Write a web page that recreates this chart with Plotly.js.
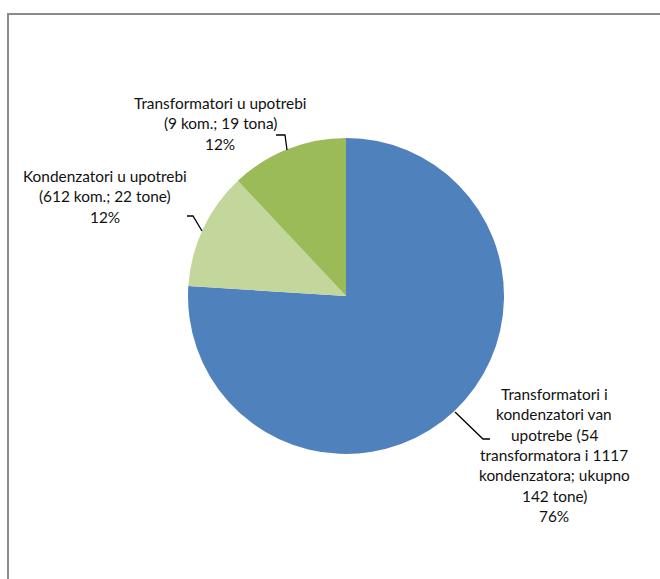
<!DOCTYPE html>
<html>
<head>
<meta charset="utf-8">
<script src="https://cdn.plot.ly/plotly-3.0.1.min.js"></script>
<style>html,body{margin:0;padding:0;background:#fff}#chart{width:660px;height:579px}</style>
</head>
<body>
<div id="chart"></div>
<script>
// Data
const categories = [
  "Transformatori i kondenzatori van upotrebe",
  "Kondenzatori u upotrebi",
  "Transformatori u upotrebi"
];
const details = [
  "(54 transformatora i 1117 kondenzatora; ukupno 142 tone)",
  "(612 kom.; 22 tone)",
  "(9 kom.; 19 tona)"
];
const shares = [76, 12, 12];
const colors = ["#4F81BD", "#C3D69B", "#9BBB59"];
// Label lines as displayed
const labelLines = [
  ["Transformatori i", "kondenzatori van", "upotrebe (54", "transformatora i 1117", "kondenzatora; ukupno", "142 tone)"],
  ["Kondenzatori u upotrebi", "(612 kom.; 22 tone)"],
  ["Transformatori u upotrebi", "(9 kom.; 19 tona)"]
];

const W = 660, H = 579;
const px = x => x / W;
const py = y => 1 - y / H;

const trace = {
  type: 'pie',
  labels: categories,
  values: shares,
  sort: false,
  direction: 'clockwise',
  rotation: 0,
  textinfo: 'none',
  hoverinfo: 'label+percent',
  marker: {colors: colors, line: {width: 0}},
  showlegend: false,
  domain: {x: [px(188), px(504)], y: [py(454), py(138)]}
};

const font = {family: 'Lato, sans-serif', size: 15.4, color: '#111111'};
const LINE = 20.3;
// first-line centre positions for each label block
const labelPos = [
  {x: 554, y: 394},
  {x: 105, y: 176},
  {x: 220, y: 103}
];
const annotations = [];
labelPos.forEach((p, i) => {
  const lines = labelLines[i].concat([shares[i] + '%']);
  lines.forEach((t, j) => {
    annotations.push({
      xref: 'paper', yref: 'paper',
      x: px(p.x), y: py(p.y + j * LINE),
      xanchor: 'center', yanchor: 'middle',
      showarrow: false,
      text: t,
      font: font
    });
  });
});

function pathOf(pts) {
  return pts.map((p, i) => (i ? 'L' : 'M') + px(p[0]) + ',' + py(p[1])).join(' ');
}
const leaders = [
  [[455, 412], [483, 439], [490, 439]],
  [[187, 216], [193, 216], [202, 231]],
  [[276, 135], [285, 135], [287, 150]]
];
const shapes = leaders.map(l => ({
  type: 'path', xref: 'paper', yref: 'paper',
  path: pathOf(l),
  line: {color: '#000', width: 1.3}
}));
shapes.push({
  type: 'rect', xref: 'paper', yref: 'paper',
  x0: px(8), y0: py(590), x1: px(680), y1: py(14),
  line: {color: '#8c8c8c', width: 2}
});

const layout = {
  width: W, height: H,
  margin: {l: 0, r: 0, t: 0, b: 0},
  paper_bgcolor: '#fff',
  showlegend: false,
  annotations: annotations,
  shapes: shapes,
  font: font
};

Plotly.newPlot('chart', [trace], layout, {displayModeBar: false, staticPlot: true});
</script>
</body>
</html>
